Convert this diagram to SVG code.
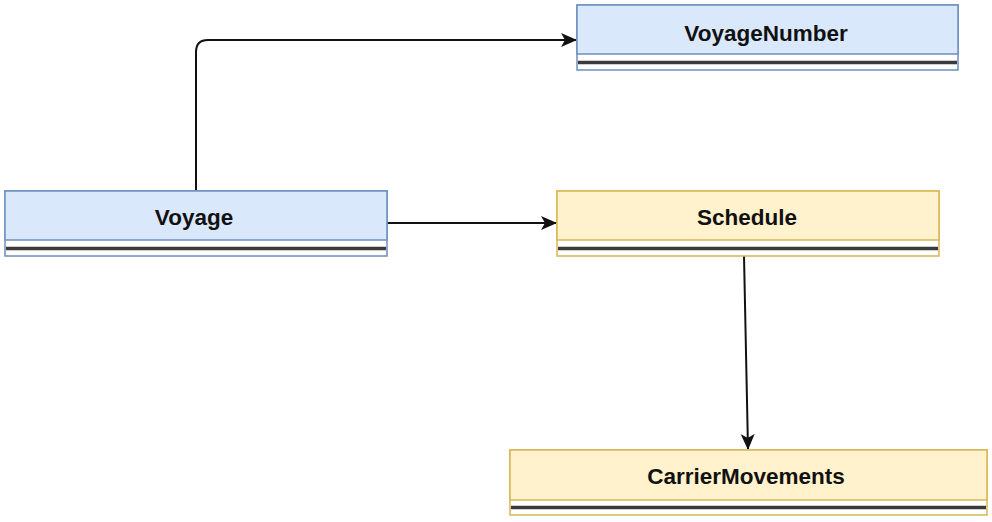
<svg xmlns="http://www.w3.org/2000/svg" width="992" height="522" viewBox="0 0 992 522">
<style>
.blue{fill:#dae8fc;stroke:#6c8ebf;stroke-width:1.5}
.yellow{fill:#fff2cc;stroke:#d6b656;stroke-width:1.5}
.lowb{fill:#ffffff;stroke:#6c8ebf;stroke-width:1.5}
.lowy{fill:#ffffff;stroke:#d6b656;stroke-width:1.5}
.sep{stroke:#3a3a3a;stroke-width:3.5}
.lbl{font-family:"Liberation Sans",Arial,sans-serif;font-weight:bold;font-size:22.5px;fill:#111;text-anchor:middle}
.conn{fill:none;stroke:#111;stroke-width:2}
</style>
<defs>
<marker id="arr" viewBox="0 0 16 14" refX="15" refY="7" markerWidth="16" markerHeight="14" markerUnits="userSpaceOnUse" orient="auto">
<path d="M0,0 L16,7 L0,14 L4,7 Z" fill="#111"/>
</marker>
</defs>
<rect width="992" height="522" fill="#ffffff"/>
<g id="connectors">
<path class="conn" d="M196,190 L196,52 Q196,40 208,40 L576,40" marker-end="url(#arr)"/>
<path class="conn" d="M387,223 L556,223" marker-end="url(#arr)"/>
<path class="conn" d="M744,256 L748,449" stroke="#333" marker-end="url(#arr)"/>
</g>
<g id="VoyageNumber">
<rect class="lowb" x="577" y="5" width="381" height="65"/>
<rect class="blue" x="577" y="5" width="381" height="49"/>
<line class="sep" x1="578" y1="62.5" x2="957" y2="62.5"/>
<text class="lbl" x="766" y="41">VoyageNumber</text>
</g>
<g id="Voyage">
<rect class="lowb" x="5" y="191" width="382" height="65"/>
<rect class="blue" x="5" y="191" width="382" height="49"/>
<line class="sep" x1="6" y1="248.5" x2="386" y2="248.5"/>
<text class="lbl" x="194" y="225">Voyage</text>
</g>
<g id="Schedule">
<rect class="lowy" x="557" y="191" width="382" height="65"/>
<rect class="yellow" x="557" y="191" width="382" height="49"/>
<line class="sep" x1="558" y1="248.5" x2="938" y2="248.5"/>
<text class="lbl" x="747" y="225">Schedule</text>
</g>
<g id="CarrierMovements">
<rect class="lowy" x="510" y="450" width="477" height="65"/>
<rect class="yellow" x="510" y="450" width="477" height="50"/>
<line class="sep" x1="511" y1="507.5" x2="986" y2="507.5"/>
<text class="lbl" x="746" y="484">CarrierMovements</text>
</g>
</svg>
